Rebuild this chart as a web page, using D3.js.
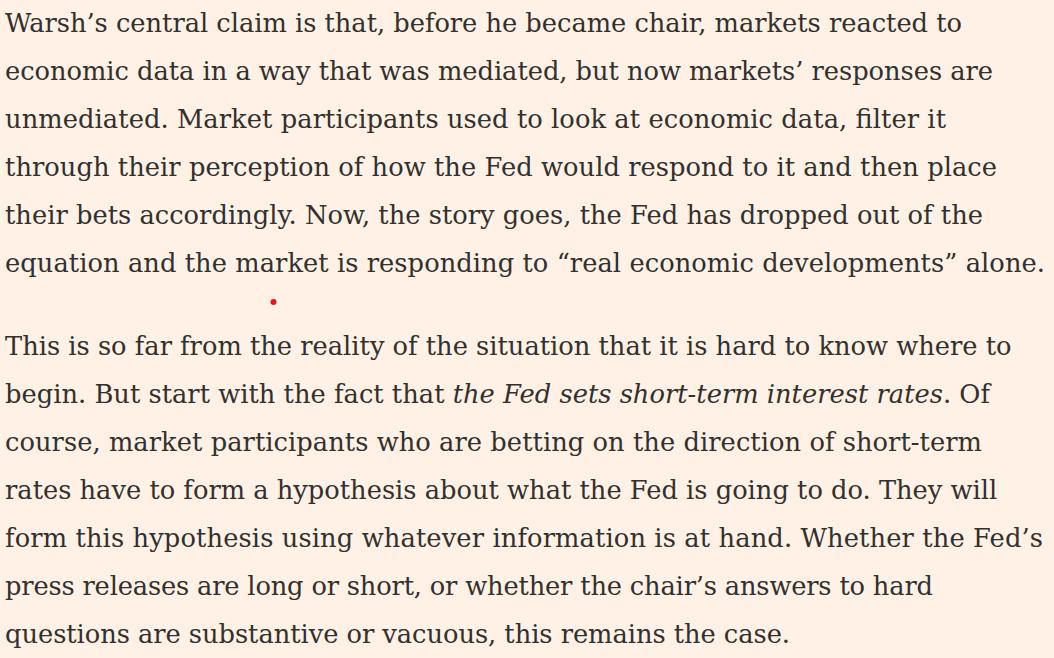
<!DOCTYPE html>
<html>
<head>
<meta charset="utf-8">
<script src="https://cdn.jsdelivr.net/npm/d3@7"></script>
<style>
  html, body { margin: 0; padding: 0; background: #FFF1E5; }
  svg { display: block; }
</style>
</head>
<body>
<script>
// Text content, line by line. Each line is a list of [text, isItalic] runs.
const paragraph1 = [
  [["Warsh’s central claim is that, before he became chair, markets reacted to", false]],
  [["economic data in a way that was mediated, but now markets’ responses are", false]],
  [["unmediated. Market participants used to look at economic data, filter it", false]],
  [["through their perception of how the Fed would respond to it and then place", false]],
  [["their bets accordingly. Now, the story goes, the Fed has dropped out of the", false]],
  [["equation and the market is responding to “real economic developments” alone.", false]]
];
const paragraph2 = [
  [["This is so far from the reality of the situation that it is hard to know where to", false]],
  [["begin. But start with the fact that ", false], ["the Fed sets short-term interest rates", true], [". Of", false]],
  [["course, market participants who are betting on the direction of short-term", false]],
  [["rates have to form a hypothesis about what the Fed is going to do. They will", false]],
  [["form this hypothesis using whatever information is at hand. Whether the Fed’s", false]],
  [["press releases are long or short, or whether the chair’s answers to hard", false]],
  [["questions are substantive or vacuous, this remains the case.", false]]
];

// Layout (not data): right edge of each rendered line, in px
const p1RightEdges = [962, 993, 946, 997, 983, 1045];
const p2RightEdges = [1011, 990, 982, 997, 1043, 933, 790];

const W = 1054, H = 658;
const left = 5, lineH = 48;
const p1Baseline = 32, p2Baseline = 355;
const fontFamily = "'DejaVu Serif', Georgia, serif";

const svg = d3.select("body").append("svg")
  .attr("width", W).attr("height", H);

svg.append("rect").attr("width", W).attr("height", H).attr("fill", "#FFF1E5");

// pick one font size so that natural line widths best match the reference
const probe = svg.append("text")
  .attr("font-family", fontFamily).attr("font-size", 100).attr("opacity", 0);
let ratioSum = 0, n = 0;
[[paragraph1, p1RightEdges], [paragraph2, p2RightEdges]].forEach(([lines, edges]) => {
  lines.forEach((runs, i) => {
    probe.selectAll("tspan").data(runs).join("tspan")
      .attr("font-style", d => d[1] ? "italic" : "normal").text(d => d[0]);
    ratioSum += (edges[i] - left) / probe.node().getComputedTextLength();
    n++;
  });
});
probe.remove();
const fontSize = Math.min(29, 100 * ratioSum / n);

function drawParagraph(lines, edges, baseline0) {
  const y = d3.scaleLinear().domain([0, 1]).range([baseline0, baseline0 + lineH]);
  const g = svg.append("g");
  const texts = g.selectAll("text").data(lines).join("text")
    .attr("x", left)
    .attr("y", (d, i) => y(i))
    .attr("font-family", fontFamily)
    .attr("font-size", fontSize)
    .attr("fill", "#33302E");
  texts.selectAll("tspan").data(d => d).join("tspan")
    .attr("font-style", d => d[1] ? "italic" : "normal")
    .text(d => d[0]);
  texts.each(function(d, i) {
    const target = edges[i] - left;
    const natural = this.getComputedTextLength();
    if (Math.abs(target - natural) > 1) {
      d3.select(this).attr("textLength", target).attr("lengthAdjust", "spacing");
    }
  });
}

drawParagraph(paragraph1, p1RightEdges, p1Baseline);
drawParagraph(paragraph2, p2RightEdges, p2Baseline);

// small red marker dot between paragraphs
svg.append("circle").attr("cx", 273.5).attr("cy", 302).attr("r", 3).attr("fill", "#E3171F");
</script>
</body>
</html>
